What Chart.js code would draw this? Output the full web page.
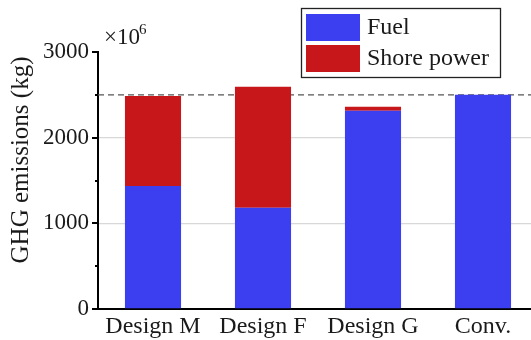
<!DOCTYPE html>
<html><head><meta charset="utf-8">
<style>html,body{margin:0;padding:0;background:#fff;overflow:hidden;width:531px;height:340px}canvas{display:block}</style>
<script src="https://cdn.jsdelivr.net/npm/chart.js@4/dist/chart.umd.min.js"></script>
</head><body>
<canvas id="c" width="540" height="340" style="width:540px;height:340px"></canvas>
<script>
const categories = ['Design M', 'Design F', 'Design G', 'Conv.'];
const fuel = [1435, 1182, 2314, 2500];
const shorePower = [1050, 1412, 47, 0];
const seriesNames = ['Fuel', 'Shore power'];
const yTicks = [0, 1000, 2000, 3000];
const yTitle = 'GHG emissions (kg)';
const referenceLevel = 2500;
const blue = '#3b3ff0';
const red = '#c8171b';
const serif = '"Liberation Serif", "DejaVu Serif", serif';

const extras = {
  id: 'extras',
  beforeDatasetsDraw(chart) {
    const {ctx, chartArea: a, scales: {y}} = chart;
    const py = y.getPixelForValue(referenceLevel);
    ctx.save();
    ctx.strokeStyle = '#555';
    ctx.lineWidth = 1.3;
    ctx.setLineDash([6, 4]);
    ctx.beginPath(); ctx.moveTo(a.left, py); ctx.lineTo(a.right, py); ctx.stroke();
    ctx.restore();
  },
  afterDraw(chart) {
    const {ctx, chartArea: a, scales: {y}} = chart;
    ctx.save();
    // y ticks
    ctx.strokeStyle = '#000'; ctx.lineWidth = 2;
    for (let v = 0; v <= 3000; v += 500) {
      const py = Math.round(y.getPixelForValue(v));
      const len = v % 1000 === 0 ? 6 : 3;
      ctx.beginPath(); ctx.moveTo(a.left - len, py); ctx.lineTo(a.left, py); ctx.stroke();
    }
    // y title
    ctx.save();
    ctx.translate(21, 160);
    ctx.rotate(-Math.PI / 2);
    ctx.fillStyle = '#1a1a1a';
    ctx.font = '25px ' + serif;
    ctx.textAlign = 'center';
    ctx.textBaseline = 'middle';
    ctx.fillText(yTitle, 0, 0);
    ctx.restore();
    // multiplier
    ctx.fillStyle = '#1a1a1a';
    ctx.font = '23px ' + serif;
    ctx.textAlign = 'left';
    ctx.textBaseline = 'alphabetic';
    ctx.fillText('×10', 104, 44);
    ctx.font = '15px ' + serif;
    ctx.fillText('6', 139, 34);
    // legend
    const lx = 301, ly = 8, lw = 199, lh = 69;
    ctx.fillStyle = '#fff'; ctx.fillRect(lx, ly, lw, lh);
    ctx.strokeStyle = '#222'; ctx.lineWidth = 1.3;
    ctx.strokeRect(lx + 0.5, ly + 0.5, lw, lh);
    chart.data.datasets.forEach((ds, i) => {
      const sy = ly + 6 + i * 31;
      ctx.fillStyle = ds.backgroundColor;
      ctx.fillRect(lx + 5, sy, 54, 27);
      ctx.fillStyle = '#1a1a1a';
      ctx.font = '24px ' + serif;
      ctx.textBaseline = 'middle';
      ctx.fillText(ds.label, lx + 66, sy + 14);
    });
    ctx.restore();
  }
};

new Chart(document.getElementById('c'), {
  type: 'bar',
  data: {
    labels: categories,
    datasets: [
      {label: seriesNames[0], data: fuel, backgroundColor: blue, barPercentage: 0.51, categoryPercentage: 1},
      {label: seriesNames[1], data: shorePower, backgroundColor: red, barPercentage: 0.51, categoryPercentage: 1}
    ]
  },
  options: {
    responsive: false,
    animation: false,
    devicePixelRatio: 1,
    layout: {padding: {top: 52, right: 2, left: 0, bottom: 0}},
    plugins: {legend: {display: false}, tooltip: {enabled: false}},
    scales: {
      x: {
        stacked: true,
        grid: {display: false, drawTicks: false},
        border: {display: true, color: '#000', width: 2},
        ticks: {color: '#1a1a1a', font: {family: serif, size: 24}, padding: 3, maxRotation: 0},
        afterFit(s) { s.height = 31; }
      },
      y: {
        stacked: true,
        min: 0, max: 3000,
        afterBuildTicks(s) { s.ticks = yTicks.map(v => ({value: v})); },
        grid: {
          drawTicks: false,
          color: c => (c.tick && (c.tick.value === 1000 || c.tick.value === 2000)) ? '#d8d8d8' : 'rgba(0,0,0,0)',
          lineWidth: 1.3
        },
        border: {display: true, color: '#000', width: 2},
        ticks: {color: '#1a1a1a', font: {family: serif, size: 23}, padding: 9, callback: v => String(v)},
        afterFit(s) { s.width = 98; }
      }
    }
  },
  plugins: [extras]
});
</script>
</body></html>
